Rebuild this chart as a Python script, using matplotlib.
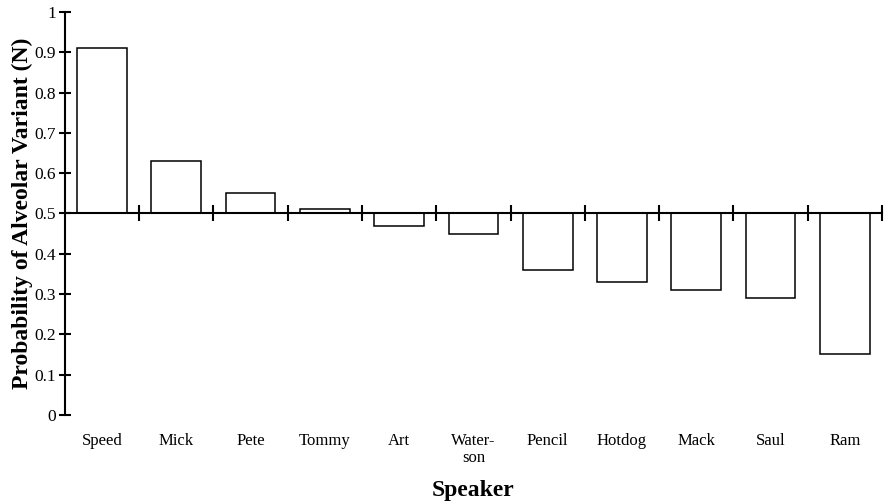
import matplotlib.pyplot as plt
import numpy as np

plt.rcParams['font.family'] = ['Liberation Serif', 'DejaVu Serif']

speakers = ["Speed", "Mick", "Pete", "Tommy", "Art", "Water-\nson",
            "Pencil", "Hotdog", "Mack", "Saul", "Ram"]
probability = [0.91, 0.63, 0.55, 0.51, 0.47, 0.45, 0.36, 0.33, 0.31, 0.29, 0.15]
baseline = 0.5
y_ticks = [0, 0.1, 0.2, 0.3, 0.4, 0.5, 0.6, 0.7, 0.8, 0.9, 1]
y_tick_labels = ["0", "0.1", "0.2", "0.3", "0.4", "0.5", "0.6", "0.7", "0.8", "0.9", "1"]

fig = plt.figure(figsize=(8.89, 5.04), dpi=100)
ax = fig.add_axes([0.073, 0.177, 0.919, 0.799])

x = np.arange(len(speakers))
heights = np.array(probability) - baseline
ax.bar(x, heights, bottom=baseline, width=0.67, color="white",
       edgecolor="black", linewidth=1.1, zorder=2)

ax.set_xlim(-0.5, len(speakers) - 0.5)
ax.set_ylim(0, 1)

# axis line through 0.5 with ticks on the category boundaries
ax.spines['bottom'].set_position(('data', baseline))
ax.spines['bottom'].set_linewidth(1.5)
ax.spines['bottom'].set_zorder(3)
ax.spines['left'].set_linewidth(1.5)
ax.spines['top'].set_visible(False)
ax.spines['right'].set_visible(False)
ax.set_xticks(list(x + 0.5))
ax.set_xticklabels([])
ax.tick_params(axis='x', direction='inout', length=12, width=1.5)

ax.set_yticks(y_ticks)
ax.set_yticklabels(y_tick_labels)
ax.tick_params(axis='y', direction='inout', length=9, width=1.5,
               labelsize=12.5, pad=2)

# speaker names along the bottom of the plot
sec = ax.secondary_xaxis(0.0)
sec.set_xticks(x)
sec.set_xticklabels(speakers, fontsize=12, va='top', linespacing=1.1)
sec.tick_params(length=0, pad=13)
sec.spines['bottom'].set_visible(False)
sec.set_xlabel("Speaker", fontsize=17, fontweight='bold', labelpad=10)

ax.set_ylabel("Probability of Alveolar Variant (N)", fontsize=17,
              fontweight='bold', labelpad=1)

fig.savefig("out.png", dpi=100)
